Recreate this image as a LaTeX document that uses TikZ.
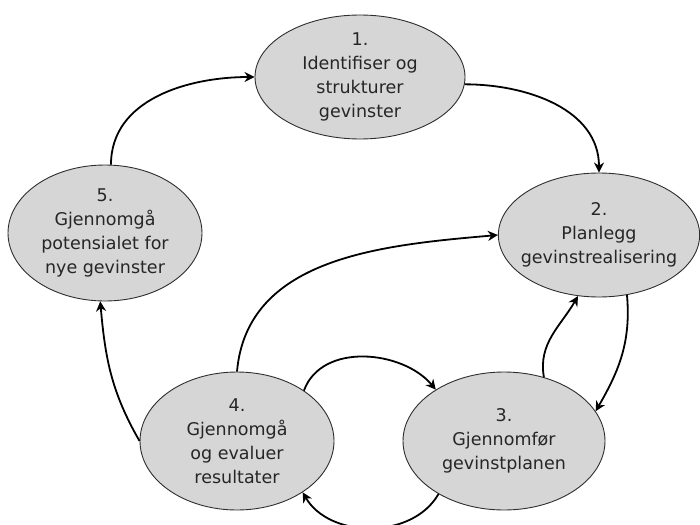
\documentclass[tikz,border=0pt]{standalone}
\usepackage{fontspec}
\setmainfont{DejaVu Sans}
\usepackage{xcolor}
\usepackage{tikz}
\usetikzlibrary{arrows.meta,shapes.geometric}
\definecolor{stepgray}{HTML}{D6D6D6}
\definecolor{stepedge}{HTML}{2E2E2E}
\tikzset{
  stepnode/.style={ellipse, draw=stepedge, line width=0.9pt, fill=stepgray,
                   inner sep=-7pt, align=center, text=black!85,
                   font=\fontsize{17.5}{24}\selectfont},
  cyclearrow/.style={-{Stealth[length=10pt,width=10pt]}, line width=1.8pt}
}

\begin{document}
\begin{tikzpicture}[x=1pt, y=-1pt]
    \useasboundingbox (0,0) rectangle (700,524);

    % Steps
    \node[stepnode, minimum width=210pt, minimum height=124pt] (S1) at (360,77)
      {1.\\Identifiser og\\strukturer\\gevinster};
    \node[stepnode, minimum width=198pt, minimum height=124pt] (S2) at (599,235)
      {2.\\Planlegg\\gevinstrealisering};
    \node[stepnode, minimum width=202pt, minimum height=138pt] (S3) at (504,441)
      {3.\\Gjennomfør\\gevinstplanen};
    \node[stepnode, minimum width=194pt, minimum height=138pt] (S4) at (237,441)
      {4.\\Gjennomgå\\og evaluer\\resultater};
    \node[stepnode, minimum width=194pt, minimum height=136pt] (S5) at (105,233)
      {5.\\Gjennomgå\\potensialet for\\nye gevinster};

    % Outer cycle
    \draw[cyclearrow] (S5.85) to[out=90, in=180] (S1.180);
    \draw[cyclearrow] (S1.-4) to[out=0, in=90] (S2.90);
    \draw[cyclearrow] (S2.-65) to[out=-85, in=60] (S3.18);
    \draw[cyclearrow] (S4.180) to[out=120, in=-85] (S5.266);

    % Feedback loops
    \draw[cyclearrow] (S3.58) to[out=100, in=240] (S2.251);
    \draw[cyclearrow] (S4.37) to[out=70, in=130] (S3.143);
    \draw[cyclearrow] (S3.219) to[out=-120, in=-60] (S4.322);
    \draw[cyclearrow] (S4.90) to[out=85, in=185] (S2.180);
\end{tikzpicture}
\end{document}
